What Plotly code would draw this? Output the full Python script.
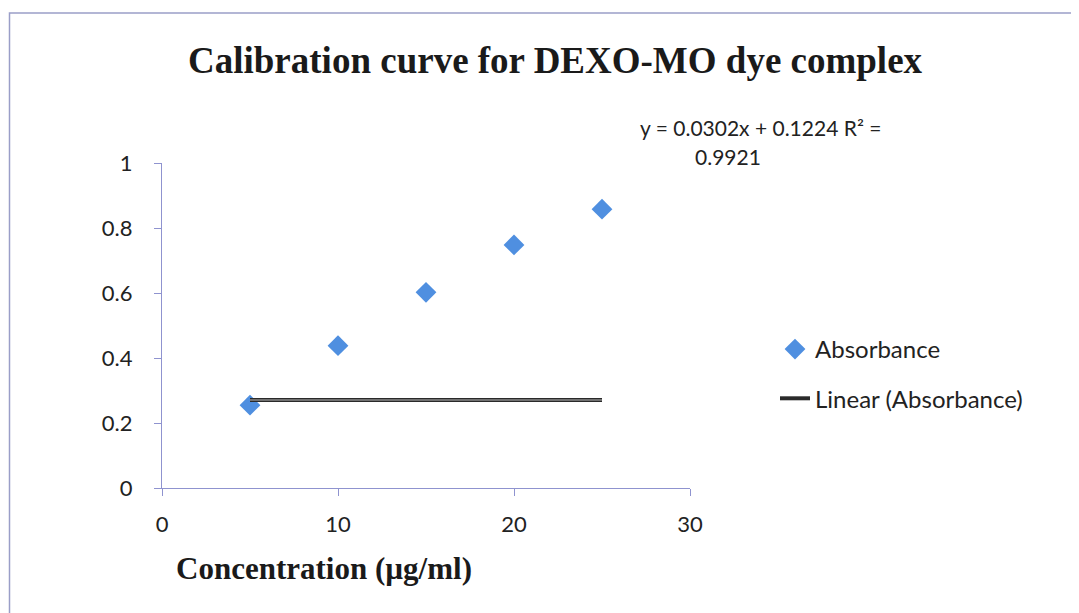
import plotly.graph_objects as go

# Data
concentration = [5, 10, 15, 20, 25]
absorbance = [0.255, 0.438, 0.602, 0.748, 0.858]
trend_x = [5, 25]
trend_y = [0.271, 0.271]
x_ticks = [0, 10, 20, 30]
y_ticks = [0, 0.2, 0.4, 0.6, 0.8, 1]
y_tick_labels = ["0", "0.2", "0.4", "0.6", "0.8", "1"]

OFF = 8  # page body margin
W, H = 1071, 605
L = 162 - OFF
T = 163 - OFF
pw, ph = 528, 325
R = W - L - pw
B = H - T - ph

def px(xp):
    return (xp - OFF - L) / pw

def py(yp):
    return (T + ph - (yp - OFF)) / ph

fig = go.Figure()

fig.add_trace(go.Scatter(
    x=concentration, y=absorbance, mode="markers", name="Absorbance",
    marker=dict(symbol="diamond", size=16, color="#4f8fe0"),
    legendgroup="a",
))
fig.add_trace(go.Scatter(
    x=trend_x, y=trend_y, mode="lines", name="Linear (Absorbance)",
    line=dict(color="#2a2a2a", width=4), legendgroup="b",
))
fig.add_trace(go.Scatter(
    x=trend_x, y=trend_y, mode="lines", showlegend=False,
    line=dict(color="#b8b8b8", width=1.1), hoverinfo="skip",
))

axis_color = "#8f93cf"
tick_font = dict(family="Lato, Carlito, sans-serif", size=22, color="#222222")

fig.update_xaxes(
    range=[0, 30], tickvals=x_ticks, showgrid=False, zeroline=False,
    showline=True, linecolor=axis_color, linewidth=1.2,
    ticks="outside", ticklen=7, tickcolor=axis_color, tickwidth=1.2,
    tickfont=tick_font, ticklabelstandoff=9,
)
fig.update_yaxes(
    range=[0, 1], tickvals=y_ticks, ticktext=y_tick_labels, showgrid=False,
    zeroline=False, showline=True, linecolor=axis_color, linewidth=1.2,
    ticks="outside", ticklen=7, tickcolor=axis_color, tickwidth=1.2,
    tickfont=tick_font, ticklabelstandoff=17,
)

annotations = [
    dict(text="<b>Calibration curve for DEXO-MO dye complex</b>",
         x=px(555), y=py(61), xref="paper", yref="paper", showarrow=False,
         xanchor="center", yanchor="middle",
         font=dict(family="Liberation Serif, Times New Roman, serif", size=37, color="#1a1a1a")),
    dict(text="<b>Concentration (µg/ml)</b>",
         x=px(174), y=py(568), xref="paper", yref="paper", showarrow=False,
         xanchor="left", yanchor="middle",
         font=dict(family="Liberation Serif, Times New Roman, serif", size=31, color="#1a1a1a")),
    dict(text="y = 0.0302x + 0.1224 R² =",
         x=px(760), y=py(128), xref="paper", yref="paper", showarrow=False,
         xanchor="center", yanchor="middle",
         font=dict(family="Lato, Carlito, sans-serif", size=21, color="#222222")),
    dict(text="0.9921",
         x=px(728), y=py(157), xref="paper", yref="paper", showarrow=False,
         xanchor="center", yanchor="middle",
         font=dict(family="Lato, Carlito, sans-serif", size=21, color="#222222")),
]

shapes = [
    dict(type="rect", xref="paper", yref="paper",
         x0=px(9.5), x1=px(1120), y0=py(660), y1=py(13),
         line=dict(color="#9a9ec8", width=1.5), fillcolor="rgba(0,0,0,0)", layer="below"),
]

fig.update_layout(
    width=W, height=H,
    margin=dict(l=L, r=R, t=T, b=B),
    paper_bgcolor="white", plot_bgcolor="white",
    annotations=annotations, shapes=shapes,
    legend=dict(x=px(775), y=py(327), xref="paper", yref="paper",
                xanchor="left", yanchor="top", traceorder="grouped",
                tracegroupgap=15, bgcolor="rgba(0,0,0,0)",
                font=dict(family="Lato, Carlito, sans-serif", size=24, color="#222222")),
    showlegend=True,
)

fig.write_html("out.html")
